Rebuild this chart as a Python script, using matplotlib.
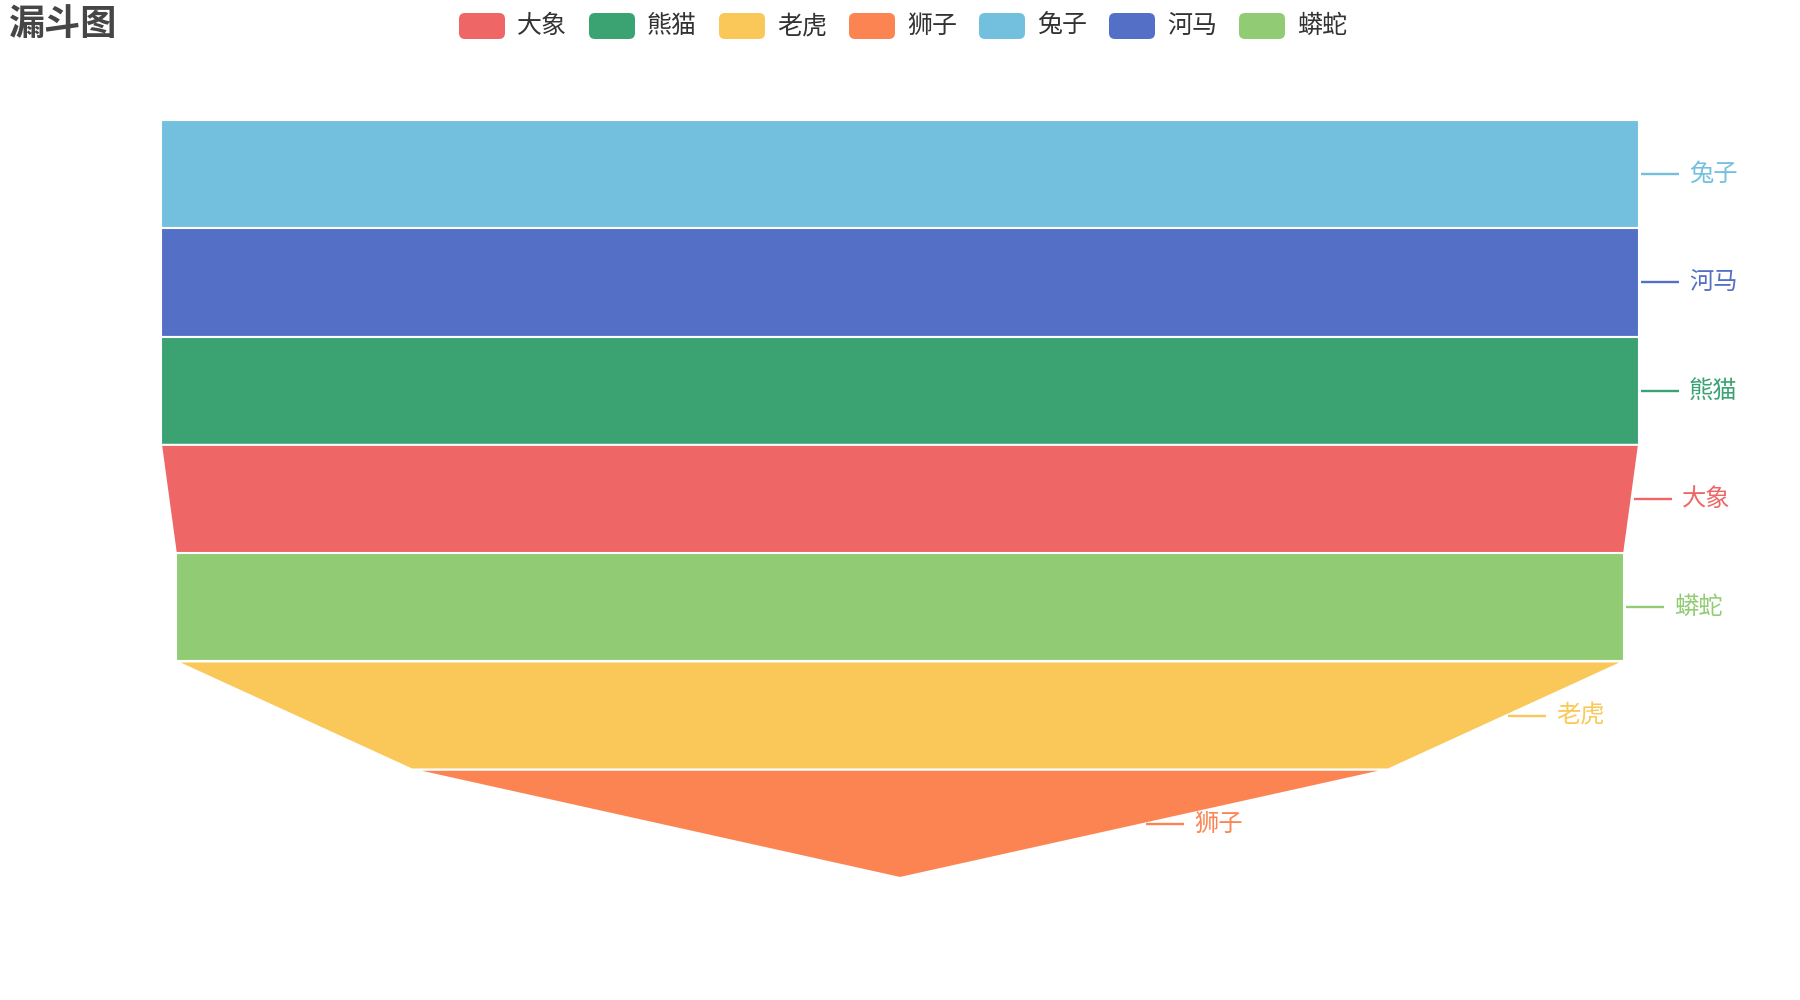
import matplotlib
matplotlib.use("Agg")
from matplotlib import pyplot as plt
from matplotlib.patches import Polygon, FancyBboxPatch

plt.rcParams['font.family'] = ['Noto Sans CJK SC', 'DejaVu Sans']

TITLE = "漏斗图"

# legend order (as given in the data) and colours
legend_names = ['大象', '熊猫', '老虎', '狮子', '兔子', '河马', '蟒蛇']
legend_colors = ['#ee6666', '#3ba272', '#fac858', '#fc8452', '#73c0de',
                 '#5470c6', '#91cc75']

# funnel rows, sorted descending (values above MAX_VALUE are clamped)
names = ['兔子', '河马', '熊猫', '大象', '蟒蛇', '老虎', '狮子']
values = [100, 100, 100, 100, 98, 98, 66]
MAX_VALUE = 100

color_of = dict(zip(legend_names, legend_colors))

fig = plt.figure(figsize=(18, 10), dpi=100)
ax = fig.add_axes([0, 0, 1, 1])
ax.set_xlim(0, 1800)
ax.set_ylim(1000, 0)
ax.axis('off')

# funnel box in pixels
left, right, top, bottom = 161, 1639, 120, 878
cx = (left + right) / 2
full_w = right - left
step = (bottom - top) / len(names)


def half_width(v):
    v = max(0, min(v, MAX_VALUE))
    return v / MAX_VALUE * full_w / 2


for i, (name, val) in enumerate(zip(names, values)):
    color = color_of[name]
    nxt = values[i + 1] if i + 1 < len(values) else 0
    y0 = top + i * step
    y1 = y0 + step
    w0, w1 = half_width(val), half_width(nxt)
    pts = [(cx - w0, y0), (cx + w0, y0), (cx + w1, y1), (cx - w1, y1)]
    ax.add_patch(Polygon(pts, closed=True, facecolor=color,
                         edgecolor='white', linewidth=1.5))

    # label outside on the right with a short leader line
    xm = cx + (w0 + w1) / 2
    ym = (y0 + y1) / 2
    ax.plot([xm + 2, xm + 40], [ym, ym], color=color, lw=1.7,
            solid_capstyle='butt')
    ax.text(xm + 50, ym, name, color=color, fontsize=17.5,
            va='center', ha='left')

# legend across the top
item_step = 130
mark_w, mark_h = 46, 26
total = item_step * len(legend_names) - 24
x = cx - total / 2 + 2
ly = 26
for name, color in zip(legend_names, legend_colors):
    ax.add_patch(FancyBboxPatch((x, ly - mark_h / 2), mark_w, mark_h,
                                boxstyle="round,pad=0,rounding_size=6",
                                facecolor=color, edgecolor='none'))
    ax.text(x + mark_w + 12, ly, name, color='#333333', fontsize=18,
            va='center', ha='left')
    x += item_step

ax.text(9, 24, TITLE, fontsize=26, fontweight='bold', color='#464646',
        va='center', ha='left')

fig.savefig('out.png', dpi=100)
